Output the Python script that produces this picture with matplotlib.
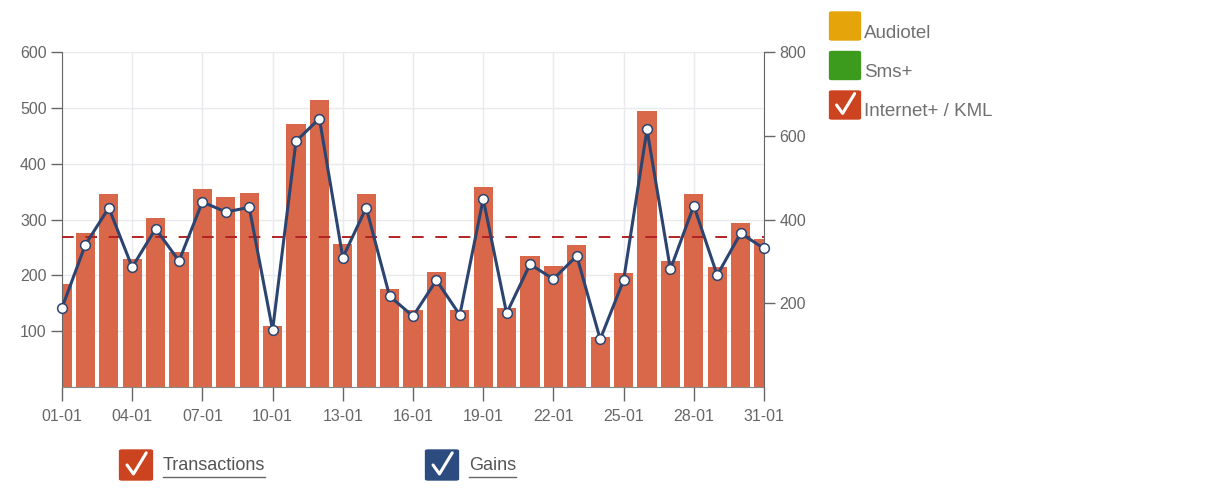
import matplotlib
matplotlib.use("Agg")
import matplotlib.pyplot as plt
from matplotlib.patches import FancyBboxPatch
from matplotlib.lines import Line2D
import numpy as np

plt.rcParams["font.family"] = ["Liberation Sans", "DejaVu Sans"]

days = list(range(1, 32))
transactions = [185, 275, 345, 229, 303, 242, 355, 340, 347, 110,
                471, 514, 256, 345, 176, 138, 206, 138, 359, 141,
                235, 217, 254, 90, 204, 495, 225, 346, 215, 293, 265]
gains = [189, 340, 428, 286, 378, 301, 442, 418, 429, 136,
         587, 641, 309, 428, 217, 169, 255, 172, 449, 176,
         293, 258, 313, 114, 255, 615, 281, 433, 267, 367, 331]
tick_days = [1, 4, 7, 10, 13, 16, 19, 22, 25, 28, 31]
tick_labels = ["%02d-01" % d for d in tick_days]
series_names = ["Audiotel", "Sms+", "Internet+ / KML"]
series_colors = ["#E5A50A", "#3C9A1C", "#CC4320"]
bottom_names = ["Transactions", "Gains"]
bottom_colors = ["#CC4320", "#2C4C80"]

W, H = 1228, 500
fig = plt.figure(figsize=(W / 100, H / 100), dpi=100)
ax = fig.add_axes([62 / W, 1 - 387 / H, (764 - 62) / W, (387 - 52) / H])

grid_c = "#EAEAEE"
ax.bar(days, transactions, width=0.82, color="#D9684A", zorder=2)
ax.set_xlim(1, 31)
ax.set_ylim(0, 600)
ax.set_yticks([100, 200, 300, 400, 500, 600])
ax.set_xticks(tick_days)
ax.set_xticklabels(tick_labels)
ax.yaxis.grid(True, color=grid_c, lw=1, zorder=0)
ax.xaxis.grid(True, color=grid_c, lw=1, zorder=0)
ax.axhline(np.mean(transactions), color="#B22222", lw=1.4, ls=(0, (6, 6)), zorder=4)

ax2 = ax.twinx()
ax2.set_ylim(0, 800)
ax2.set_yticks([200, 400, 600, 800])
ax2.plot(days, gains, color="#2C4470", lw=2.2, marker="o", ms=7,
         mfc="white", mec="#2C4470", mew=1.1, zorder=5, clip_on=False)

for a in (ax, ax2):
    for s in a.spines.values():
        s.set_visible(False)
    a.tick_params(colors="#666666", labelcolor="#666666", labelsize=11.5,
                  length=8, width=1)
ax.spines["left"].set_visible(True)
ax.spines["bottom"].set_visible(True)
ax.spines["left"].set_color("#666666")
ax.spines["bottom"].set_color("#888888")
ax2.spines["right"].set_visible(True)
ax2.spines["right"].set_color("#666666")
ax.tick_params(axis="x", length=10, pad=6)
ax.tick_params(axis="y", pad=3)
ax2.tick_params(axis="y", pad=3)


def checkbox(x, y, size, color, checked=True):
    # x, y = top-left corner in pixels
    box = FancyBboxPatch(((x + 2) / W, 1 - (y + size - 2) / H),
                         (size - 4) / W, (size - 4) / H,
                         boxstyle="round,pad=0.002", transform=fig.transFigure,
                         fc=color, ec=color, lw=1)
    fig.add_artist(box)
    if checked:
        px = [x + size * 0.22, x + size * 0.42, x + size * 0.82]
        py = [y + size * 0.50, y + size * 0.78, y + size * 0.12]
        fig.add_artist(Line2D([p / W for p in px], [1 - p / H for p in py],
                              color="white", lw=2.2, transform=fig.transFigure,
                              solid_capstyle="round", solid_joinstyle="round"))


# right legend
for i, (name, col) in enumerate(zip(series_names, series_colors)):
    ty = 11 + i * 39.5
    checkbox(830, ty, 30, col, checked=(i == 2))
    fig.text(864 / W, 1 - (ty + 22) / H, name, fontsize=13.5, color="#707070",
             va="center", ha="left")

# bottom legend
fig.canvas.draw()
renderer = fig.canvas.get_renderer()
for (name, col, bx) in zip(bottom_names, bottom_colors, [120, 426]):
    checkbox(bx, 449, 32, col)
    t = fig.text((bx + 43) / W, 1 - 466 / H, name, fontsize=13, color="#555555",
                 va="center", ha="left")
    bb = t.get_window_extent(renderer)
    uy = 1 - 477 / H
    fig.add_artist(Line2D([bb.x0 / W, bb.x1 / W], [uy, uy], color="#666666",
                          lw=1, transform=fig.transFigure))

fig.savefig("out.png", dpi=100)
